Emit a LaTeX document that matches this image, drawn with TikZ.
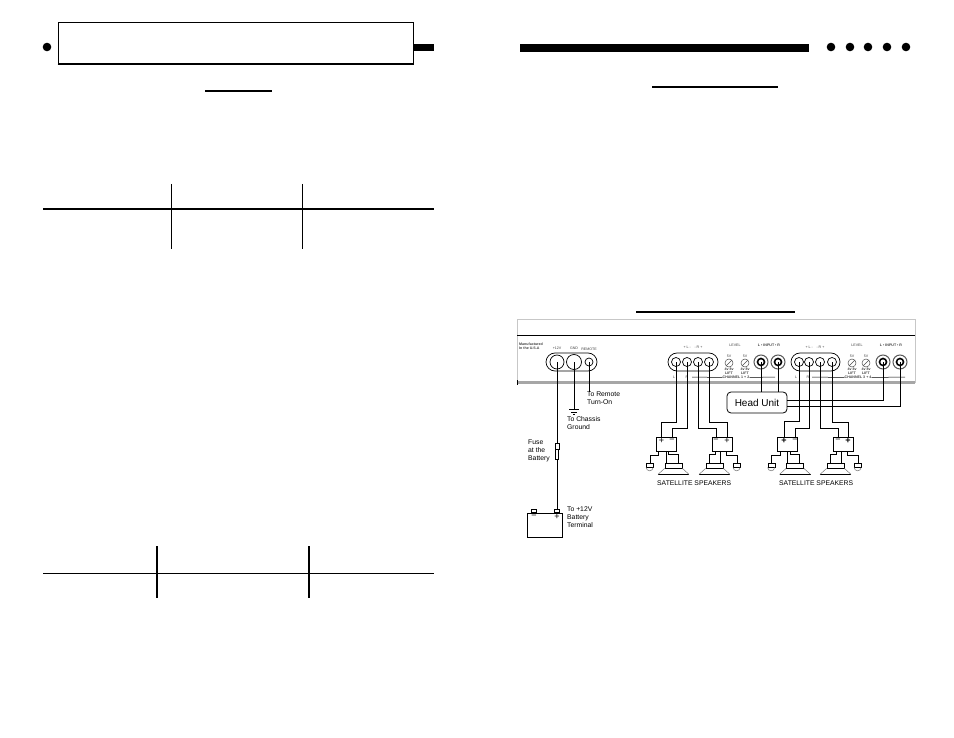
\documentclass[tikz,border=0pt]{standalone}
\usepackage{fontspec}
\setmainfont{Liberation Sans}
\usetikzlibrary{positioning,calc}

\tikzset{
	wire/.style={line width=0.8pt,black},
	rule/.style={line width=#1,black},
	dotmark/.style={circle,fill=black,inner sep=0pt,minimum size=8.6pt},
	lug/.style={draw,circle,line width=0.7pt,fill=white,inner sep=0pt,minimum size=#1},
	jack/.style={draw=black!65,circle,line width=1pt,fill=white,inner sep=0pt,minimum size=14pt},
	jackcore/.style={draw=black,circle,line width=1.6pt,fill=white,inner sep=0pt,minimum size=7pt},
	knob/.style={draw=black!70,circle,line width=0.5pt,inner sep=0pt,minimum size=8pt},
	oval/.style={draw,line width=0.7pt,rounded corners=9pt,inner sep=0pt,minimum height=18pt},
	xover/.style={draw,line width=0.8pt,inner sep=0pt,minimum width=20pt,minimum height=14pt},
	magnet/.style={draw,line width=0.8pt,inner sep=0pt,minimum width=17pt,minimum height=5pt},
	tweeter/.style={draw,line width=0.7pt,inner sep=0pt,minimum width=7pt,minimum height=4pt},
	label/.style={align=left,anchor=north west,inner sep=0pt,font=\fontsize{6.8}{8}\selectfont,text=black},
	tiny/.style={inner sep=0pt,font=\fontsize{3.6}{4}\selectfont,text=black!75},
	sign/.style={inner sep=0pt,font=\fontsize{9}{9}\selectfont},
	post/.style={draw,fill=white,line width=0.8pt,inner sep=0pt,minimum width=5pt,minimum height=3.5pt,anchor=south},
}

\begin{document}
\begin{tikzpicture}[x=1pt,y=-1pt]
	\useasboundingbox (0,0) rectangle (954,738);

	% left page
	\node[dotmark] (dotl) at (47,47) {};
	\node[draw,line width=1pt,inner sep=0pt,minimum width=355pt,minimum height=41.5pt] (titlebox) at (235.5,43) {};
	\draw[rule=1.2pt] (titlebox.south west) -- (titlebox.south east);
	\fill (titlebox.east |- 0,44) rectangle (434,51);
	\draw[rule=2.5pt] (205,91) -- (272,91);
	\draw[rule=1pt] (171,184) -- (171,249);
	\draw[rule=1pt] (302,184) -- (302,249);
	\draw[rule=1.6pt] (43,209) -- (434,209);
	\draw[rule=1.4pt] (157,546) -- (157,598);
	\draw[rule=1.4pt] (309,546) -- (309,598);
	\draw[rule=0.9pt] (43,573) -- (434,573);

	% right page
	\fill (520,44) rectangle (809,52);
	\foreach \x in {831,850,868,887,906}
		\node[dotmark] (dot\x) at (\x,47) {};
	\draw[rule=1.5pt] (652,87) -- (778,87);
	\draw[rule=1.5pt] (636,312) -- (795,312);

	% amplifier panel
	\draw[black!22,line width=1pt] (517,383) -- (517,320) -- (915,320) -- (915,383);
	\draw[black!35,line width=3.5pt] (517,382.5) -- (915,382.5);
	\draw[rule=0.9pt] (517,335) -- (915,335);
	\draw[rule=0.8pt] (517,380) -- (517,385);
	\node[tiny,align=left,anchor=north west] (madein) at (519,343) {\textbf{Manufactured}\\\textbf{In the U.S.A}};

	% power terminals
	\node[oval,minimum width=51pt] (powerbar) at (571.5,362) {};
	\node[lug=14pt] (pos) at (557,362) {};
	\node[lug=15pt] (gnd) at (574,362) {};
	\node[lug=8pt] (remote) at (589,362) {};
	\node[tiny,above=5pt of pos] {+12V};
	\node[tiny,above=4.5pt of gnd] {GND};
	\node[tiny,above=7pt of remote] {REMOTE};

	% speaker terminals
	\node[oval,minimum width=50pt] (barone) at (693,362) {};
	\node[lug=9pt] (s1) at (676,362) {};
	\node[lug=9pt] (s2) at (687,362) {};
	\node[lug=9pt] (s3) at (698,362) {};
	\node[lug=9pt] (s4) at (709,362) {};
	\node[oval,minimum width=49pt] (bartwo) at (815.5,362) {};
	\node[lug=9pt] (s5) at (799,362) {};
	\node[lug=9pt] (s6) at (809,362) {};
	\node[lug=9pt] (s7) at (820,362) {};
	\node[lug=9pt] (s8) at (832,362) {};
	\node[tiny] (signone) at (693,347) {+ L -\quad - R +};
	\node[tiny] (signtwo) at (815,347) {+ L -\quad - R +};

	% level and input
	\node[tiny] (levone) at (735,345) {LEVEL};
	\node[tiny] (levtwo) at (857,345) {LEVEL};
	\node[tiny] (inone) at (769,345) {\textbf{L • INPUT • R}};
	\node[tiny] (intwo) at (891,345) {\textbf{L • INPUT • R}};
	\node[knob] (k1) at (729,363) {};
	\node[knob] (k2) at (745,363) {};
	\node[knob] (k3) at (852,363) {};
	\node[knob] (k4) at (866,363) {};
	\foreach \k in {k1,k2,k3,k4} {
		\draw[black!70,line width=0.5pt] (\k.south west) -- (\k.north east);
		\node[tiny,above=1pt of \k] {5V};
		\node[tiny,below=1pt of \k,align=center] {\textbf{4v 8v}\\\textbf{LIFT}};
	}
	\node[jack] (il) at (761,362) {};
	\node[jackcore] (ilc) at (il) {};
	\node[jack] (ir) at (778,362) {};
	\node[jackcore] (irc) at (ir) {};
	\node[jack] (il2) at (883,362) {};
	\node[jackcore] (ilc2) at (il2) {};
	\node[jack] (ir2) at (900,362) {};
	\node[jackcore] (irc2) at (ir2) {};
	\node[tiny] (ch12) at (736,377.5) {\textbf{CHANNEL 1 + 2}};
	\node[tiny] (ch34) at (858,377.5) {\textbf{CHANNEL 3 + 4}};
	\draw[black,line width=0.5pt] (692,377) -- (ch12.west);
	\draw[black,line width=0.5pt] (ch12.east) -- (775,377);
	\draw[black,line width=0.5pt] (812,377) -- (ch34.west);
	\draw[black,line width=0.5pt] (ch34.east) -- (905,377);
	\node[tiny] (ll) at (674,377) {L};
	\node[tiny] (rr) at (687,377) {R};
	\node[tiny] (ll2) at (796,377) {L};
	\node[tiny] (rr2) at (808,377) {R};

	% head unit
	\node[draw,line width=0.8pt,rounded corners=4pt,minimum width=60pt,minimum height=21pt,inner sep=0pt,font=\fontsize{10}{12}\selectfont] (head) at (757,402.5) {Head Unit};
	\draw[wire] (il.center) -- (il |- head.north);
	\draw[wire] (ir.center) -- (ir |- head.north);
	\draw[wire] (head.east |- 0,400.5) -| (il2.center);
	\draw[wire] (head.east |- 0,406) -| (ir2.center);

	% crossovers
	\node[xover] (x1) at (666,444) {};
	\node[xover] (x2) at (722.5,444) {};
	\node[xover] (x3) at (787.5,444) {};
	\node[xover] (x4) at (843.5,444) {};
	\node[sign] (p1) at (661.5,441) {+};
	\node[sign] (m1) at (672,441) {−};
	\node[sign] (m2) at (716,441) {−};
	\node[sign] (p2) at (727,441) {+};
	\node[sign] (p3) at (784,441) {\textbf{+}};
	\node[sign] (m3) at (795,441) {−};
	\node[sign] (m4) at (838,441) {−};
	\node[sign] (p4) at (848,441) {\textbf{+}};

	\draw[wire] (s1.center) -- (s1 |- 0,422) -| (p1 |- x1.north);
	\draw[wire] (s2.center) -- (s2 |- 0,428) -| (m1 |- x1.north);
	\draw[wire] (s3.center) -- (s3 |- 0,428) -| (m2 |- x2.north);
	\draw[wire] (s4.center) -- (s4 |- 0,422) -| (p2 |- x2.north);
	\draw[wire] (s5.center) -- (s5 |- 0,421) -| (p3 |- x3.north);
	\draw[wire] (s6.center) -- (s6 |- 0,428) -| (m3 |- x3.north);
	\draw[wire] (s7.center) -- (s7 |- 0,428) -| (m4 |- x4.north);
	\draw[wire] (s8.center) -- (s8 |- 0,422) -| (p4 |- x4.north);

	% speakers, left to right
	\foreach \n/\xo/\mx/\tx/\ta/\mw/\oa/\ob in {a/x1/673.5/650/658.5/666/668.5/678,b/x2/714.5/737/726/720/715/709,c/x3/795/771.5/780/787.5/790/799.5,d/x4/835.5/858/847/841/836/830} {
		\node[magnet] (mag\n) at (\mx,465.5) {};
		\node[tweeter] (tw\n) at (\tx,465) {};
		\draw[black!55,line width=0.5pt] (tw\n.south west) arc[start angle=180,end angle=360,radius=3.5pt];
		\draw[rule=0.8pt] ($(mag\n.south)+(-15.5,6)$) coordinate (cl\n) -- ++(31,0) coordinate (cr\n);
		\draw[black!55,line width=0.5pt] (mag\n.south west) -- (cl\n);
		\draw[black!55,line width=0.5pt] (mag\n.south east) -- (cr\n);
		\draw[wire] (\ta,451) -- (\ta,455) -| (tw\n.north);
		\draw[wire] (\mw,451) -- (\mw,463);
		\draw[wire] (\oa,451) -- (\oa,454) -| (\ob,463);
	}
	\node[label] (satone) at (657,481) {SATELLITE SPEAKERS};
	\node[label] (sattwo) at (779,481) {SATELLITE SPEAKERS};

	% power wiring
	\node[label] (turnon) at (587,391.5) {To Remote\\Turn-On};
	\draw[wire] (remote.center) -- (remote |- turnon.north);
	\coordinate (earth) at (574,409);
	\draw[wire] (gnd.center) -- (earth);
	\draw[rule=0.8pt] (569,409) -- (579,409);
	\draw[rule=0.8pt] (571,412) -- (577,412);
	\draw[rule=0.8pt] (573,414.5) -- (575,414.5);
	\node[label] (chassis) at (567,416) {To Chassis\\Ground};
	\node[label] (fuselabel) at (528,440) {Fuse\\at the\\Battery};
	\node[draw,line width=0.8pt,fill=white,inner sep=0pt,minimum width=35pt,minimum height=24pt] (battery) at (544.5,525) {};
	\node[post] (bminus) at (534,513) {};
	\node[post] (bplus) at (557,513) {};
	\draw[wire] (pos.center) -- (bplus.north);
	\node[draw,fill=white,line width=0.7pt,inner sep=0pt,minimum width=4pt,minimum height=6pt] (fusecap) at (557,446) {};
	\node[draw,fill=white,line width=0.7pt,inner sep=0pt,minimum width=2.5pt,minimum height=10pt] (fusebody) at (557,454) {};
	\node[sign] (bm) at (534,517) {−};
	\node[sign] (bp) at (557,517) {+};
	\node[label] (termlabel) at (567,506.5) {To +12V\\Battery\\Terminal};
\end{tikzpicture}
\end{document}
